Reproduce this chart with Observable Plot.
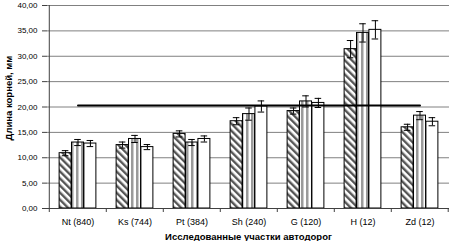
<!DOCTYPE html>
<html>
<head>
<meta charset="utf-8">
<script src="https://cdn.jsdelivr.net/npm/d3@7"></script>
<script src="https://cdn.jsdelivr.net/npm/@observablehq/plot@0.6"></script>
<style>
  html, body { margin: 0; padding: 0; background: #fff; }
  #chart svg { display: block; }
</style>
</head>
<body>
<div id="chart"></div>
<script>
// ---- data ----
const categories = ["Nt (840)", "Ks (744)", "Pt (384)", "Sh (240)", "G (120)", "H (12)", "Zd (12)"];
const seriesA = [10.9, 12.5, 14.7, 17.2, 19.2, 31.4, 16.0];   // hatched bars
const seriesB = [13.0, 13.7, 13.0, 18.6, 21.1, 34.6, 18.3];   // grey striped bars
const seriesC = [12.8, 12.1, 13.7, 20.1, 20.8, 35.2, 17.1];   // white bars
const errA = [0.5, 0.6, 0.6, 0.7, 0.6, 1.7, 0.6];
const errB = [0.6, 0.7, 0.6, 1.2, 1.1, 1.8, 0.8];
const errC = [0.6, 0.5, 0.6, 1.1, 0.9, 1.8, 0.8];
const referenceLevel = 20.3;
const yTicks = [0, 5, 10, 15, 20, 25, 30, 35, 40];
const yLabel = "Длина корней, мм";
const xLabel = "Исследованные участки автодорог";

// ---- layout ----
const W = 450, H = 241;
const mL = 47, mR = 1, mT = 5, mB = 33;
const bw = (W - mL - mR) / categories.length;
const barW = 12.4;
const off0 = (bw - 3 * barW) / 2;
const fonts = "'Liberation Sans', Arial, sans-serif";

const fills = ["url(#hatch)", "url(#vstripe)", "#ffffff"];
const vals = [seriesA, seriesB, seriesC];
const errs = [errA, errB, errC];

const rows = [];
vals.forEach((arr, s) => arr.forEach((v, i) => rows.push({cat: categories[i], v, e: errs[s][i], s})));

const marks = [
  Plot.gridY(yTicks, {stroke: "#808080", strokeOpacity: 1, strokeWidth: 1})
];

for (let s = 0; s < 3; s++) {
  const left = off0 + s * barW;
  const center = left + barW / 2;
  const data = rows.filter(d => d.s === s);
  marks.push(
    Plot.barY(data, {x: "cat", y: "v", fill: fills[s], stroke: "#000", strokeWidth: 1,
      insetLeft: left, insetRight: bw - left - barW})
  );
  marks.push(
    Plot.ruleX(data, {x: "cat", y1: d => d.v - d.e, y2: d => d.v + d.e, dx: center - bw / 2, stroke: "#000", strokeWidth: 1}),
    Plot.tickY(data, {x: "cat", y: d => d.v + d.e, insetLeft: center - 3.5, insetRight: bw - center - 3.5, stroke: "#000", strokeWidth: 1}),
    Plot.tickY(data, {x: "cat", y: d => d.v - d.e, insetLeft: center - 3.5, insetRight: bw - center - 3.5, stroke: "#000", strokeWidth: 1})
  );
}

marks.push(
  // reference line from first to last category centres
  Plot.lineY(categories, {x: d => d, y: () => referenceLevel, stroke: "#000", strokeWidth: 2}),
  // axes lines
  Plot.ruleY([0], {stroke: "#404040", strokeWidth: 1}),
  Plot.ruleX([categories[0]], {x: d => d, y1: () => 0, y2: () => 40, dx: -bw / 2, stroke: "#404040", strokeWidth: 1}),
  // x ticks at band boundaries
  Plot.ruleX(categories, {x: d => d, y1: () => 0, y2: () => 0, insetBottom: -4, dx: -bw / 2, stroke: "#404040"}),
  Plot.ruleX([categories[categories.length - 1]], {x: d => d, y1: () => 0, y2: () => 0, insetBottom: -4, dx: bw / 2 - 0.5, stroke: "#404040"}),
  Plot.axisY({ticks: yTicks, tickFormat: d => d.toFixed(2).replace(".", ","), tickSize: 5, tickPadding: 5,
    label: null, fontSize: 8, stroke: "#404040"}),
  Plot.axisX({tickSize: 0, tickPadding: 10, label: null, fontSize: 9}),
  Plot.text([xLabel], {frameAnchor: "bottom", dy: 31, fontWeight: "bold", fontSize: 9.5, fill: "#000"}),
  Plot.text([yLabel], {frameAnchor: "left", textAnchor: "middle", dx: -39, dy: -9, rotate: -90,
    fontWeight: "bold", fontSize: 9.5, fill: "#000"})
);

const chart = Plot.plot({
  width: W, height: H,
  marginLeft: mL, marginRight: mR, marginTop: mT, marginBottom: mB,
  style: {fontFamily: fonts, fontSize: "8px", color: "#000", background: "#fff"},
  x: {domain: categories, padding: 0, axis: null},
  y: {domain: [0, 40], axis: null},
  marks
});

// pattern definitions
const svg = d3.select(chart.tagName.toLowerCase() === "svg" ? chart : chart.querySelector("svg"));
const defs = svg.insert("defs", ":first-child");
const h = defs.append("pattern").attr("id", "hatch").attr("patternUnits", "userSpaceOnUse")
  .attr("width", 5).attr("height", 5).attr("patternTransform", "rotate(-45)");
h.append("rect").attr("width", 5).attr("height", 5).attr("fill", "#fff");
h.append("rect").attr("width", 2.4).attr("height", 5).attr("fill", "#555");
const v = defs.append("pattern").attr("id", "vstripe").attr("patternUnits", "userSpaceOnUse")
  .attr("width", 5).attr("height", 5);
v.append("rect").attr("width", 5).attr("height", 5).attr("fill", "#fff");
v.append("rect").attr("x", 1).attr("width", 2.5).attr("height", 5).attr("fill", "#9a9a9a");

document.getElementById("chart").appendChild(chart);
</script>
</body>
</html>
